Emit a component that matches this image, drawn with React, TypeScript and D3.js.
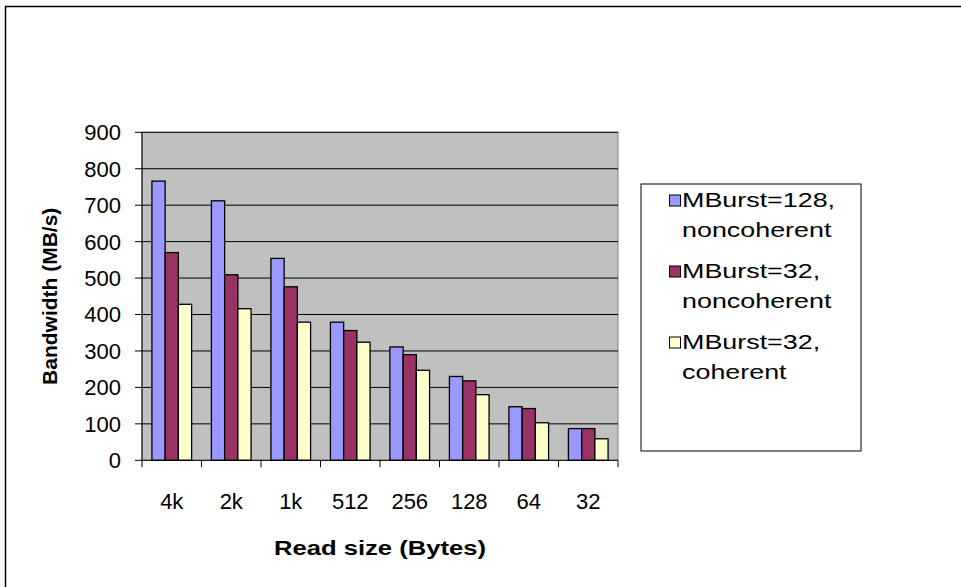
import React from "react";
import * as d3 from "d3";

const categories = ["4k", "2k", "1k", "512", "256", "128", "64", "32"];
const seriesNames = [
  ["MBurst=128,", "noncoherent"],
  ["MBurst=32,", "noncoherent"],
  ["MBurst=32,", "coherent"],
];
const mburst128Noncoherent = [766, 712, 554, 379, 311, 230, 147, 87];
const mburst32Noncoherent = [570, 509, 476, 356, 290, 218, 142, 87];
const mburst32Coherent = [428, 416, 379, 324, 247, 180, 103, 59];
const yTicks = [0, 100, 200, 300, 400, 500, 600, 700, 800, 900];
const colors = ["#9999FF", "#993366", "#FFFFCC"];

const FONT = "'Liberation Sans', Arial, sans-serif";
const STRETCH = 1.28;

export default function App() {
  const W = 961, H = 587;
  const left = 142, right = 618, top = 132.3, bottom = 460.3;
  const series = [mburst128Noncoherent, mburst32Noncoherent, mburst32Coherent];
  const x = d3.scaleBand<string>().domain(categories).range([left, right]).paddingInner(0).paddingOuter(0);
  const y = d3.scaleLinear().domain([0, 900]).range([bottom, top]);
  const bw = x.bandwidth() / 4.5;
  const inner = d3.scaleBand<number>().domain([0, 1, 2]).range([0.75 * bw, 3.75 * bw]);
  const boundaries = categories.map((c) => x(c)!).concat([right]);

  return (
    <svg width={W} height={H} style={{ position: "absolute", left: 0, top: 0, background: "#fff" }}>
      <rect x={5.5} y={6.5} width={W + 10} height={H + 10} fill="#fff" stroke="#000" strokeWidth={1.5} />
      <rect x={left} y={top} width={right - left} height={bottom - top} fill="#C0C0C0" stroke="#808080" strokeWidth={1} />
      {yTicks.filter((t) => t > 0).map((t) => (
        <line key={"g" + t} x1={left} x2={right} y1={y(t)} y2={y(t)} stroke="#000" strokeWidth={1} />
      ))}
      {series.map((vals, si) =>
        vals.map((v, ci) => (
          <rect
            key={si + "-" + ci}
            x={x(categories[ci])! + inner(si)!}
            y={y(v)}
            width={inner.bandwidth()}
            height={bottom - y(v)}
            fill={colors[si]}
            stroke="#000"
            strokeWidth={1.3}
          />
        ))
      )}
      <line x1={left} x2={left} y1={top} y2={bottom} stroke="#000" strokeWidth={1} />
      <line x1={left} x2={right} y1={bottom} y2={bottom} stroke="#000" strokeWidth={1} />
      {yTicks.map((t) => (
        <g key={"t" + t}>
          <line x1={left - 7} x2={left} y1={y(t)} y2={y(t)} stroke="#000" />
          <text x={121} y={y(t)} dy="0.36em" textAnchor="end" fontFamily={FONT} fontSize={22} fill="#000">
            {t}
          </text>
        </g>
      ))}
      {boundaries.map((b, i) => (
        <line key={"xt" + i} x1={b} x2={b} y1={bottom} y2={bottom + 7} stroke="#000" />
      ))}
      {categories.map((c) => (
        <text key={"xl" + c} x={x(c)! + x.bandwidth() / 2} y={509} textAnchor="middle" fontFamily={FONT} fontSize={22} fill="#000">
          {c}
        </text>
      ))}
      <text
        transform={`translate(${(left + right) / 2},555) scale(1.22,1)`}
        textAnchor="middle"
        fontFamily={FONT}
        fontSize={21}
        fontWeight="bold"
        fill="#000"
      >
        Read size (Bytes)
      </text>
      <text
        transform={`translate(57,${(top + bottom) / 2}) rotate(-90)`}
        textAnchor="middle"
        fontFamily={FONT}
        fontSize={21}
        fontWeight="bold"
        fill="#000"
      >
        Bandwidth (MB/s)
      </text>
      <rect x={641} y={184} width={220} height={267} fill="#fff" stroke="#000" strokeWidth={1} />
      {seriesNames.map((lines, i) => {
        const cy = 200 + i * 71;
        return (
          <g key={"lg" + i}>
            <rect x={669.5} y={cy - 5} width={11} height={11} fill={colors[i]} stroke="#000" strokeWidth={1} />
            <text transform={`translate(682,${cy + 7}) scale(${STRETCH},1)`} fontFamily={FONT} fontSize={21} fill="#000">
              {lines[0]}
            </text>
            <text transform={`translate(682,${cy + 37}) scale(${STRETCH},1)`} fontFamily={FONT} fontSize={21} fill="#000">
              {lines[1]}
            </text>
          </g>
        );
      })}
    </svg>
  );
}
